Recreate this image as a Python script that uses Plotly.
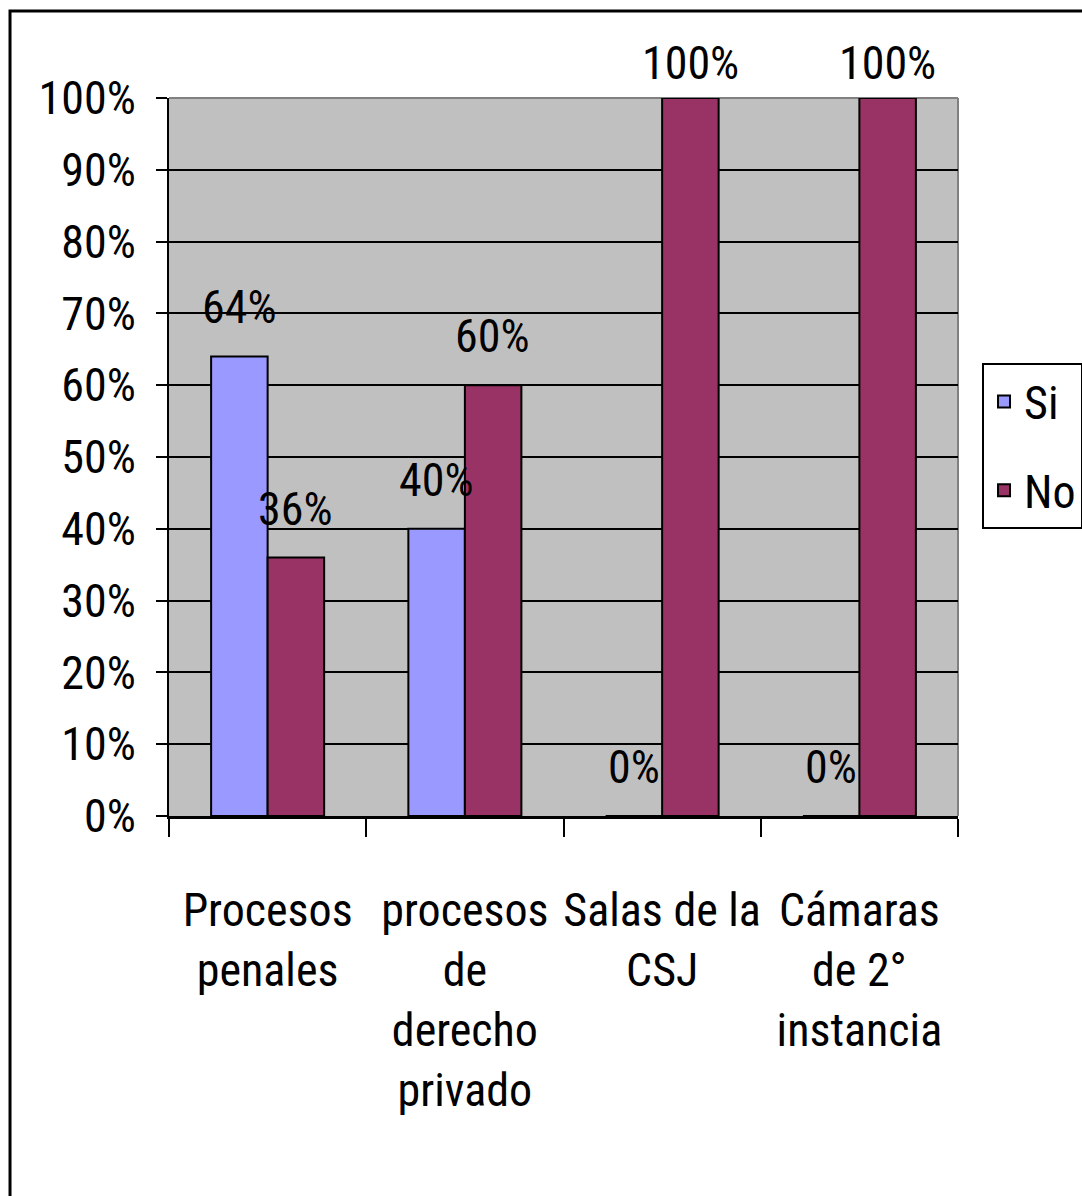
import plotly.graph_objects as go

categories = ["Procesos<br>penales", "procesos<br>de<br>derecho<br>privado",
              "Salas de la<br>CSJ", "Cámaras<br>de 2°<br>instancia"]
si_values = [0.64, 0.40, 0.0, 0.0]
no_values = [0.36, 0.60, 1.0, 1.0]
series_names = ["Si", "No"]
y_ticks = [i / 10 for i in range(11)]

FONT = "Roboto Condensed, Liberation Sans, sans-serif"
FS = 46
FW = 400

def f(size=FS):
    return dict(family=FONT, size=size, color="black", weight=FW)

fig = go.Figure()
fig.add_trace(go.Bar(x=categories, y=si_values, name=series_names[0],
                     marker=dict(color="#9999FF", line=dict(color="black", width=2)),
                     legendgroup="a"))
fig.add_trace(go.Bar(x=categories, y=no_values, name=series_names[1],
                     marker=dict(color="#993366", line=dict(color="black", width=2)),
                     legendgroup="b"))

annotations = []
for vals, shift in ((si_values, -28), (no_values, 28)):
    for c, v in zip(categories, vals):
        annotations.append(dict(
            x=c, y=v, xref="x", yref="y", text=f"{round(v*100)}%",
            showarrow=False, xshift=shift, yanchor="bottom",
            yshift=(20 if v < 1 else 6), font=f()))

shapes = [
    dict(type="rect", xref="paper", yref="paper", x0=-0.2015, x1=1.2, y0=-0.6, y1=1.121,
         line=dict(color="black", width=3), fillcolor="rgba(0,0,0,0)", layer="below"),
    dict(type="line", xref="paper", yref="paper", x0=0, x1=1, y0=1, y1=1,
         line=dict(color="#808080", width=2), layer="below"),
    dict(type="line", xref="paper", yref="paper", x0=1, x1=1, y0=0, y1=1,
         line=dict(color="#808080", width=2), layer="below"),
]

fig.update_layout(
    width=1082, height=1196,
    margin=dict(l=169, r=124, t=98, b=380, autoexpand=False),
    paper_bgcolor="white", plot_bgcolor="#C0C0C0",
    barmode="group", bargap=0.427, bargroupgap=0,
    font=f(),
    showlegend=True,
    legend=dict(xref="container", yref="container", x=0.9076, y=0.6965,
                xanchor="left", yanchor="top",
                bordercolor="black", borderwidth=2, bgcolor="white",
                tracegroupgap=26, font=f()),
    annotations=annotations, shapes=shapes,
)
fig.update_xaxes(showline=True, linecolor="black", linewidth=3, automargin=False,
                 ticks="outside", tickson="boundaries", ticklen=18, tickangle=0,
                 tickwidth=2, tickcolor="black", showgrid=False,
                 tickfont=f(), ticklabelstandoff=52)
fig.update_yaxes(range=[0, 1], tickvals=y_ticks, tickformat=".0%", automargin=False,
                 showline=True, linecolor="black", linewidth=2,
                 showgrid=True, gridcolor="black", gridwidth=2,
                 ticks="outside", ticklen=11, tickwidth=2, tickcolor="black",
                 ticklabelstandoff=11, zeroline=False, tickfont=f())

fig.write_html("out.html")
